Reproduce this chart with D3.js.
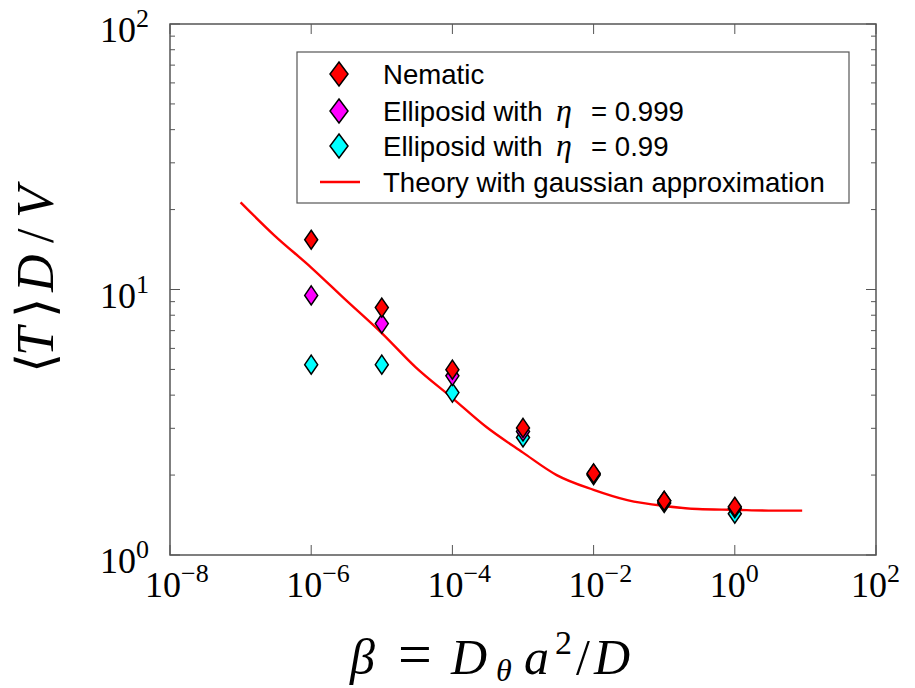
<!DOCTYPE html>
<html>
<head>
<meta charset="utf-8">
<script src="https://cdn.jsdelivr.net/npm/d3@7"></script>
<style>
body { margin: 0; background: #fff; }
svg { display: block; }
</style>
</head>
<body>
<svg id="chart"></svg>
<script>
// values
var betas = [1e-6, 1e-5, 1e-4, 1e-3, 1e-2, 1e-1, 1];
var nematic = [15.4, 8.55, 4.99, 3.01, 2.03, 1.6, 1.52];
var ellip999 = [9.5, 7.44, 4.73, 2.92, 2.02, 1.6, 1.5];
var ellip99 = [5.21, 5.21, 4.09, 2.77, 2.0, 1.57, 1.43];
var theoryBeta = [1e-7, 3e-7, 1e-6, 3e-6, 1e-5, 3e-5, 1e-4, 3e-4, 1e-3, 3e-3, 1e-2, 3e-2, 1e-1, 3e-1, 1, 3, 9];
var theoryT = [21.3, 16.0, 12.1, 9.2, 6.85, 5.1, 3.9, 3.04, 2.43, 2.0, 1.76, 1.61, 1.53, 1.49, 1.48, 1.47, 1.47];
var xTicks = [1e-8, 1e-6, 1e-4, 1e-2, 1, 1e2];
var xTickExp = ["\u22128", "\u22126", "\u22124", "\u22122", "0", "2"];
var yTicks = [1, 10, 100];
var yTickExp = ["0", "1", "2"];
var legendLabels = ["Nematic", "Elliposid with", "Elliposid with", "Theory with gaussian approximation"];
var legendEta = [null, "= 0.999", "= 0.99", null];

var screen = {width: 915, height: 688};
var margins = {top: 24, left: 170, right: 39, bottom: 133};
var graph = {
    width: screen.width - margins.left - margins.right,
    height: screen.height - margins.top - margins.bottom
};

var svg = d3.select("#chart")
    .attr("width", screen.width)
    .attr("height", screen.height);

var xScale = d3.scaleLog().domain([1e-8, 1e2]).range([0, graph.width]);
var yScale = d3.scaleLog().domain([1, 100]).range([graph.height, 0]);

var g = svg.append("g")
    .attr("transform", "translate(" + margins.left + "," + margins.top + ")");

// minor ticks for y (2..9 each decade)
var yMinor = [];
[1, 10].forEach(function(d) { for (var k = 2; k <= 9; k++) yMinor.push(d * k); });

var axisColor = "#555";
var ticks = g.append("g").attr("stroke", axisColor).attr("stroke-width", 1);
xTicks.forEach(function(t) {
    var x = xScale(t);
    ticks.append("line").attr("x1", x).attr("x2", x).attr("y1", graph.height).attr("y2", graph.height - 10);
    ticks.append("line").attr("x1", x).attr("x2", x).attr("y1", 0).attr("y2", 10);
});
yTicks.forEach(function(t) {
    var y = yScale(t);
    ticks.append("line").attr("x1", 0).attr("x2", 10).attr("y1", y).attr("y2", y);
    ticks.append("line").attr("x1", graph.width).attr("x2", graph.width - 10).attr("y1", y).attr("y2", y);
});
yMinor.forEach(function(t) {
    var y = yScale(t);
    ticks.append("line").attr("x1", 0).attr("x2", 5).attr("y1", y).attr("y2", y);
    ticks.append("line").attr("x1", graph.width).attr("x2", graph.width - 5).attr("y1", y).attr("y2", y);
});

// frame
g.append("rect")
    .attr("width", graph.width)
    .attr("height", graph.height)
    .attr("fill", "none")
    .attr("stroke", axisColor)
    .attr("stroke-width", 1.5);

// tick labels
var tickFont = "'Liberation Serif', 'DejaVu Serif', serif";
xTicks.forEach(function(t, i) {
    var txt = g.append("text")
        .attr("x", xScale(t) - 25)
        .attr("y", graph.height + 42)
        .attr("text-anchor", "start")
        .attr("font-family", tickFont)
        .attr("font-size", 36)
        .attr("fill", "#000");
    txt.append("tspan").text("10");
    txt.append("tspan").attr("dy", -15).attr("font-size", 26).text(xTickExp[i]);
});
yTicks.forEach(function(t, i) {
    var txt = g.append("text")
        .attr("x", -21)
        .attr("y", yScale(t) + 18)
        .attr("text-anchor", "end")
        .attr("font-family", tickFont)
        .attr("font-size", 36)
        .attr("fill", "#000");
    txt.append("tspan").text("10");
    txt.append("tspan").attr("dy", -15).attr("font-size", 26).text(yTickExp[i]);
});

// theory line
var line = d3.line()
    .x(function(d, i) { return xScale(theoryBeta[i]); })
    .y(function(d) { return yScale(d); })
    .curve(d3.curveMonotoneX);
g.append("path")
    .datum(theoryT)
    .attr("d", line)
    .attr("fill", "none")
    .attr("stroke", "#ff0000")
    .attr("stroke-width", 2.4);

var diamond = function(x, y, w, h) {
    return "M" + x + "," + (y - h) + "L" + (x + w) + "," + y + "L" + x + "," + (y + h) + "L" + (x - w) + "," + y + "Z";
};

var series = [
    {vals: ellip99, color: "#00ffff"},
    {vals: ellip999, color: "#ff00ff"},
    {vals: nematic, color: "#ff0000"}
];
series.forEach(function(s) {
    g.append("g").selectAll("path")
        .data(s.vals)
        .enter()
        .append("path")
        .attr("d", function(d, i) { return diamond(xScale(betas[i]), yScale(d), 6.5, 9.5); })
        .attr("fill", s.color)
        .attr("stroke", "#000")
        .attr("stroke-width", 1.5);
});

// legend
var legend = svg.append("g");
legend.append("rect")
    .attr("x", 297).attr("y", 52)
    .attr("width", 552).attr("height", 151)
    .attr("fill", "#fff")
    .attr("stroke", axisColor)
    .attr("stroke-width", 1.2);
var legendColors = ["#ff0000", "#ff00ff", "#00ffff"];
var rowY = [74, 111, 146, 182];
legendLabels.forEach(function(lab, i) {
    if (i < 3) {
        legend.append("path")
            .attr("d", diamond(339, rowY[i], 9, 12))
            .attr("fill", legendColors[i])
            .attr("stroke", "#000")
            .attr("stroke-width", 1.5);
    } else {
        legend.append("line")
            .attr("x1", 320).attr("x2", 360)
            .attr("y1", rowY[i]).attr("y2", rowY[i])
            .attr("stroke", "#ff0000").attr("stroke-width", 2.4);
    }
    var txt = legend.append("text")
        .attr("x", 383)
        .attr("y", rowY[i] + 10)
        .attr("font-family", "'Liberation Sans', Arial, sans-serif")
        .attr("font-size", 27.6)
        .attr("fill", "#000")
        .text(lab);
    if (legendEta[i]) {
        txt.append("tspan")
            .attr("x", 556)
            .attr("font-family", "'Liberation Serif', serif")
            .attr("font-style", "italic")
            .attr("font-size", 32)
            .text("\u03b7");
        txt.append("tspan").attr("x", 591).text(legendEta[i]);
    }
});

// axis labels
var mathFont = "'Liberation Serif', 'DejaVu Serif', serif";
var xl = svg.append("text")
    .attr("font-family", mathFont)
    .attr("font-size", 50)
    .attr("fill", "#000");
xl.append("tspan").attr("x", 350).attr("y", 674).attr("font-style", "italic").text("\u03b2");
xl.append("tspan").attr("x", 398).attr("y", 674).attr("font-size", 60).attr("textLength", 39).text("=");
xl.append("tspan").attr("x", 451).attr("y", 674).attr("font-style", "italic").text("D");
xl.append("tspan").attr("x", 496).attr("y", 681).attr("font-style", "italic").attr("font-size", 32).text("\u03b8");
xl.append("tspan").attr("x", 524).attr("y", 674).attr("font-style", "italic").text("a");
xl.append("tspan").attr("x", 555).attr("y", 654).attr("font-size", 34).text("2");
xl.append("tspan").attr("x", 576).attr("y", 674).text("/");
xl.append("tspan").attr("x", 594).attr("y", 674).attr("font-style", "italic").text("D");

var yl = svg.append("text")
    .attr("transform", "translate(53,0) rotate(-90)")
    .attr("font-family", mathFont)
    .attr("font-size", 52)
    .attr("fill", "#000");
yl.append("tspan").attr("x", -373).text("\u27e8");
yl.append("tspan").attr("x", -356).attr("font-style", "italic").text("T");
yl.append("tspan").attr("x", -318).text("\u27e9");
yl.append("tspan").attr("x", -292).attr("font-style", "italic").text("D");
yl.append("tspan").attr("x", -243).text("/");
yl.append("tspan").attr("x", -218).attr("font-style", "italic").text("V");
</script>
</body>
</html>
